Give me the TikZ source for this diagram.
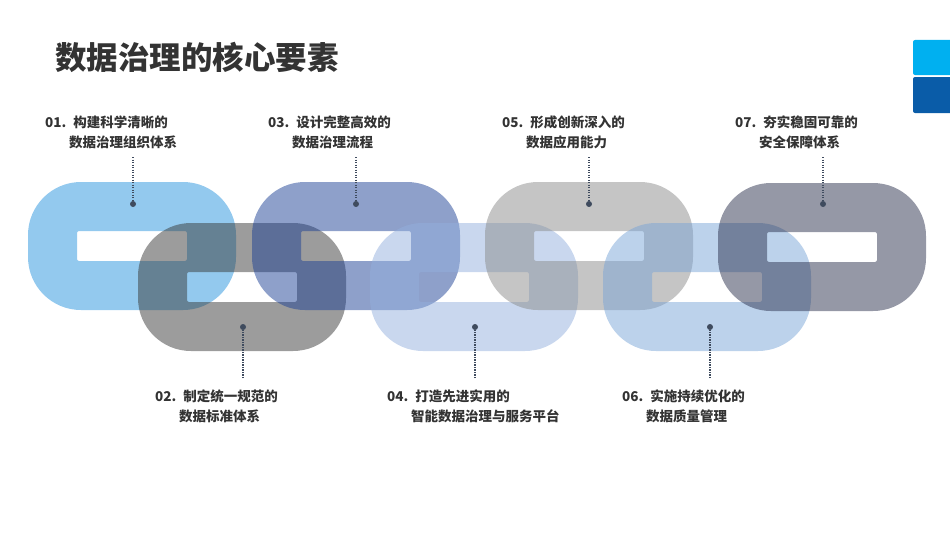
\documentclass[tikz,border=0pt]{standalone}
\usepackage{fontspec}
\setmainfont{Noto Sans CJK SC}
\usepackage{tikz}

\definecolor{linkA}{RGB}{39,147,221}
\definecolor{linkB}{RGB}{57,57,57}
\definecolor{linkC}{RGB}{29,65,149}
\definecolor{linkD}{RGB}{147,175,221}
\definecolor{linkE}{RGB}{139,139,139}
\definecolor{linkF}{RGB}{121,165,215}
\definecolor{linkG}{RGB}{43,49,77}
\definecolor{ink}{RGB}{51,51,51}
\definecolor{pinc}{RGB}{63,75,94}
\definecolor{tabcyan}{RGB}{0,176,240}
\definecolor{tabblue}{RGB}{10,92,168}

\begin{document}
\begin{tikzpicture}[x=1pt, y=-1pt,
	link/.style={even odd rule, fill opacity=0.5},
	pin/.style={circle, fill=pinc, inner sep=0pt, minimum size=6pt},
	leader/.style={pinc, line width=1.3pt, dash pattern=on 1.2pt off 1.3pt},
	labtext/.style={anchor=base west, align=left, inner sep=0pt, text=ink,
		font=\fontsize{13.5}{20}\selectfont\bfseries}]
	\useasboundingbox (0,0) rectangle (950,535);

	% title and corner tabs
	\node[anchor=base west, inner sep=0pt, text=ink, font=\fontsize{31.5}{36}\selectfont\bfseries] (title) at (55,70) {数据治理的核心要素};
	\fill[tabcyan, rounded corners=2pt] (913,40) rectangle (960,75);
	\fill[tabblue, rounded corners=2pt] (913,77) rectangle (960,113);

	% chain links
	\fill[link, fill=linkA] [rounded corners=53pt] (28,182) rectangle (236,310) [rounded corners=2pt] (77,231) rectangle (187,261);
	\fill[link, fill=linkB] [rounded corners=53pt] (138,223) rectangle (346,351) [rounded corners=2pt] (187,272) rectangle (297,302);
	\fill[link, fill=linkC] [rounded corners=53pt] (252,182) rectangle (460,310) [rounded corners=2pt] (301,231) rectangle (411,261);
	\fill[link, fill=linkD] [rounded corners=53pt] (370,223) rectangle (578,351) [rounded corners=2pt] (419,272) rectangle (529,302);
	\fill[link, fill=linkE] [rounded corners=53pt] (485,182) rectangle (693,310) [rounded corners=2pt] (534,231) rectangle (644,261);
	\fill[link, fill=linkF] [rounded corners=53pt] (603,223) rectangle (811,351) [rounded corners=2pt] (652,272) rectangle (762,302);
	\fill[link, fill=linkG] [rounded corners=53pt] (718,183) rectangle (926,311) [rounded corners=2pt] (767,232) rectangle (877,262);

	% pins
	\node[pin] (dot1) at (133,204) {};
	\node[pin] (dot2) at (243,327) {};
	\node[pin] (dot3) at (356,204) {};
	\node[pin] (dot4) at (475,327) {};
	\node[pin] (dot5) at (589,204) {};
	\node[pin] (dot6) at (710,327) {};
	\node[pin] (dot7) at (823,204) {};

	\coordinate (end1) at (133,157);
	\coordinate (end2) at (243,378);
	\coordinate (end3) at (356,157);
	\coordinate (end4) at (475,378);
	\coordinate (end5) at (589,157);
	\coordinate (end6) at (710,378);
	\coordinate (end7) at (823,157);

	\draw[leader] (end1) -- (dot1);
	\draw[leader] (end2) -- (dot2);
	\draw[leader] (end3) -- (dot3);
	\draw[leader] (end4) -- (dot4);
	\draw[leader] (end5) -- (dot5);
	\draw[leader] (end6) -- (dot6);
	\draw[leader] (end7) -- (dot7);

	% labels
	\node[labtext] (lab1) at (45,147.5) {01.\hspace{7pt}构建科学清晰的\\\hspace*{24pt}数据治理组织体系};
	\node[labtext] (lab2) at (155,421) {02.\hspace{7pt}制定统一规范的\\\hspace*{24pt}数据标准体系};
	\node[labtext] (lab3) at (268,147.5) {03.\hspace{7pt}设计完整高效的\\\hspace*{24pt}数据治理流程};
	\node[labtext] (lab4) at (387,421) {04.\hspace{7pt}打造先进实用的\\\hspace*{24pt}智能数据治理与服务平台};
	\node[labtext] (lab5) at (502,147.5) {05.\hspace{7pt}形成创新深入的\\\hspace*{24pt}数据应用能力};
	\node[labtext] (lab6) at (622,421) {06.\hspace{7pt}实施持续优化的\\\hspace*{24pt}数据质量管理};
	\node[labtext] (lab7) at (735,147.5) {07.\hspace{7pt}夯实稳固可靠的\\\hspace*{24pt}安全保障体系};
\end{tikzpicture}
\end{document}
